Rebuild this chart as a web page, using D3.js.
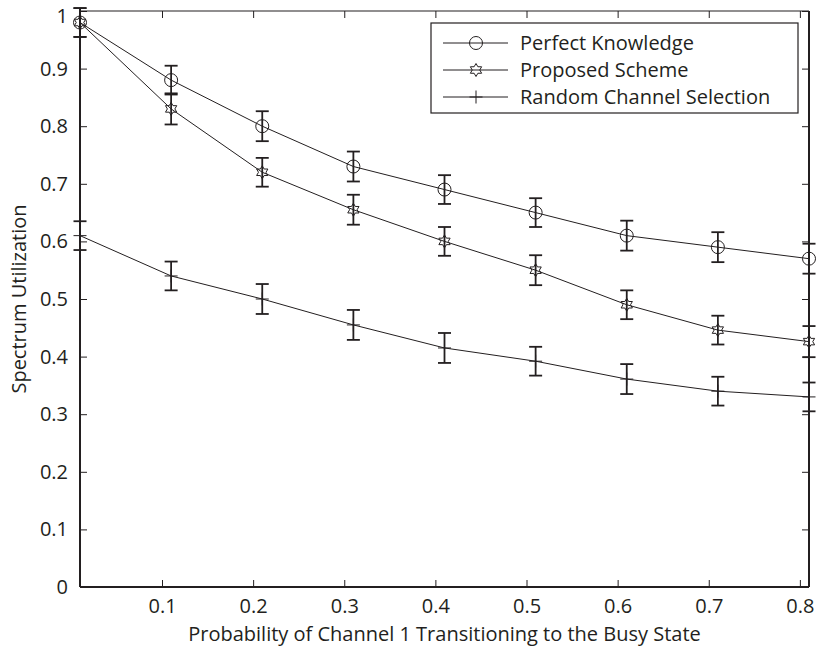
<!DOCTYPE html>
<html>
<head>
<meta charset="utf-8">
<script src="https://cdn.jsdelivr.net/npm/d3@7/dist/d3.min.js"></script>
<style>
  body { margin: 0; background: #fff; }
  text { font-family: "Open Sans", sans-serif; fill: #231f20; }
</style>
</head>
<body>
<svg width="817" height="650"></svg>
<script>
// data
var xValues = [0.01, 0.11, 0.21, 0.31, 0.41, 0.51, 0.61, 0.71, 0.81];

var perfectKnowledge = [0.98, 0.88, 0.80, 0.73, 0.69, 0.65, 0.61, 0.59, 0.57];
var perfectErr       = [0.025, 0.025, 0.026, 0.026, 0.025, 0.025, 0.026, 0.026, 0.026];

var proposedScheme   = [0.98, 0.83, 0.72, 0.655, 0.60, 0.55, 0.49, 0.446, 0.426];
var proposedErr      = [0.025, 0.027, 0.025, 0.026, 0.025, 0.026, 0.025, 0.025, 0.027];

var randomSelection  = [0.61, 0.54, 0.50, 0.455, 0.415, 0.392, 0.361, 0.340, 0.330];
var randomErr        = [0.025, 0.025, 0.026, 0.026, 0.026, 0.025, 0.026, 0.025, 0.025];

var xTicks = [0.1, 0.2, 0.3, 0.4, 0.5, 0.6, 0.7, 0.8];
var yTicks = [0, 0.1, 0.2, 0.3, 0.4, 0.5, 0.6, 0.7, 0.8, 0.9, 1];

var seriesNames = ["Perfect Knowledge", "Proposed Scheme", "Random Channel Selection"];
var seriesMarkers = ["circle", "hexagram", "plus"];

var series = [
  { name: seriesNames[0], marker: seriesMarkers[0], y: perfectKnowledge, err: perfectErr },
  { name: seriesNames[1], marker: seriesMarkers[1], y: proposedScheme, err: proposedErr },
  { name: seriesNames[2], marker: seriesMarkers[2], y: randomSelection, err: randomErr }
];

var ink = "#231f20";
var fontSize = "20px";

var svg = d3.select("svg"),
    margin = { top: 11, right: 8, bottom: 63, left: 80 },
    width = +svg.attr("width") - margin.left - margin.right,
    height = +svg.attr("height") - margin.top - margin.bottom;

var x = d3.scaleLinear().domain([0.01, 0.81]).range([0, width]);
var y = d3.scaleLinear().domain([0, 1]).range([height, 0]);

var g = svg.append("g")
    .attr("transform", "translate(" + margin.left + "," + margin.top + ")");

// axes with inward ticks, mirrored on top and right
function styleAxis(sel) {
  sel.select(".domain").remove();
  sel.selectAll(".tick line").attr("stroke", ink).attr("stroke-width", 1);
  sel.selectAll(".tick text").style("font-size", fontSize).attr("fill", ink);
}

g.append("g")
    .attr("transform", "translate(0," + height + ")")
    .call(d3.axisBottom(x).tickValues(xTicks).tickSize(-7).tickPadding(12)
      .tickFormat(d3.format(".1f")))
    .call(styleAxis);

g.append("g")
    .call(d3.axisTop(x).tickValues(xTicks).tickSize(-7).tickFormat(""))
    .call(styleAxis);

var yAxisG = g.append("g")
    .call(d3.axisLeft(y).tickValues(yTicks).tickSize(-7).tickPadding(12)
      .tickFormat(function(d) { return d === 0 || d === 1 ? d3.format("d")(d) : d3.format(".1f")(d); }))
    .call(styleAxis);
// the top label sits a little lower, as in the original
yAxisG.selectAll(".tick text").filter(function(d) { return d === 1; }).attr("dy", "0.55em");

g.append("g")
    .attr("transform", "translate(" + width + ",0)")
    .call(d3.axisRight(y).tickValues(yTicks).tickSize(-7).tickFormat(""))
    .call(styleAxis);

// frame
g.append("line").attr("x1", 0).attr("x2", width).attr("y1", 0).attr("y2", 0)
    .attr("stroke", ink).attr("stroke-width", 1.2);
g.append("line").attr("x1", 0).attr("x2", width).attr("y1", height).attr("y2", height)
    .attr("stroke", ink).attr("stroke-width", 2);
g.append("line").attr("x1", 0).attr("x2", 0).attr("y1", 0).attr("y2", height)
    .attr("stroke", ink).attr("stroke-width", 2);
g.append("line").attr("x1", width).attr("x2", width).attr("y1", 0).attr("y2", height)
    .attr("stroke", ink).attr("stroke-width", 2);

// labels
svg.append("text")
    .attr("x", margin.left + width / 2)
    .attr("y", 641)
    .attr("text-anchor", "middle")
    .style("font-size", fontSize)
    .text("Probability of Channel 1 Transitioning to the Busy State");

svg.append("text")
    .attr("transform", "translate(26," + (margin.top + height / 2) + ") rotate(-90)")
    .attr("text-anchor", "middle")
    .style("font-size", fontSize)
    .text("Spectrum Utilization");

// markers
function markerPath(type, r) {
  if (type === "circle") {
    return d3.symbol().type(d3.symbolCircle).size(Math.PI * r * r)();
  }
  if (type === "plus") {
    return "M" + (-r) + ",0H" + r + "M0," + (-r) + "V" + r;
  }
  // six-pointed star
  var pts = [];
  for (var i = 0; i < 12; i++) {
    var a = -Math.PI / 2 + i * Math.PI / 6;
    var rr = i % 2 === 0 ? r : r / Math.sqrt(3);
    pts.push([rr * Math.cos(a), rr * Math.sin(a)]);
  }
  return "M" + pts.join("L") + "Z";
}

var line = d3.line()
    .x(function(d, i) { return x(xValues[i]); })
    .y(function(d) { return y(d); });

var capHalf = 6.5;

series.forEach(function(s) {
  var sg = g.append("g");

  sg.append("path")
      .datum(s.y)
      .attr("fill", "none")
      .attr("stroke", ink)
      .attr("stroke-width", 1)
      .attr("d", line);

  var bars = sg.selectAll(".err")
    .data(s.y)
    .enter().append("g")
      .attr("class", "err")
      .attr("stroke", ink)
      .attr("stroke-width", 1.8);

  bars.append("line")
      .attr("x1", function(d, i) { return x(xValues[i]); })
      .attr("x2", function(d, i) { return x(xValues[i]); })
      .attr("y1", function(d, i) { return y(d + s.err[i]); })
      .attr("y2", function(d, i) { return y(d - s.err[i]); });
  bars.append("line")
      .attr("x1", function(d, i) { return x(xValues[i]) - capHalf; })
      .attr("x2", function(d, i) { return x(xValues[i]) + capHalf; })
      .attr("y1", function(d, i) { return y(d + s.err[i]); })
      .attr("y2", function(d, i) { return y(d + s.err[i]); });
  bars.append("line")
      .attr("x1", function(d, i) { return x(xValues[i]) - capHalf; })
      .attr("x2", function(d, i) { return x(xValues[i]) + capHalf; })
      .attr("y1", function(d, i) { return y(d - s.err[i]); })
      .attr("y2", function(d, i) { return y(d - s.err[i]); });

  sg.selectAll(".mk")
    .data(s.y)
    .enter().append("path")
      .attr("class", "mk")
      .attr("transform", function(d, i) { return "translate(" + x(xValues[i]) + "," + y(d) + ")"; })
      .attr("d", markerPath(s.marker, 6.5))
      .attr("fill", "none")
      .attr("stroke", ink)
      .attr("stroke-width", 1);
});

// legend
var legend = svg.append("g").attr("transform", "translate(431,23)");
legend.append("rect")
    .attr("width", 367).attr("height", 90)
    .attr("fill", "#fff").attr("stroke", ink).attr("stroke-width", 1.2);

var rowY = d3.scalePoint().domain(seriesNames).range([20, 74]);

series.forEach(function(s) {
  var row = legend.append("g").attr("transform", "translate(0," + rowY(s.name) + ")");
  row.append("line")
      .attr("x1", 12).attr("x2", 77)
      .attr("stroke", ink).attr("stroke-width", 1);
  row.append("path")
      .attr("transform", "translate(45,0)")
      .attr("d", markerPath(s.marker, 6.5))
      .attr("fill", "none").attr("stroke", ink).attr("stroke-width", 1);
  row.append("text")
      .attr("x", 89)
      .attr("dy", "0.35em")
      .style("font-size", fontSize)
      .text(s.name);
});
</script>
</body>
</html>
